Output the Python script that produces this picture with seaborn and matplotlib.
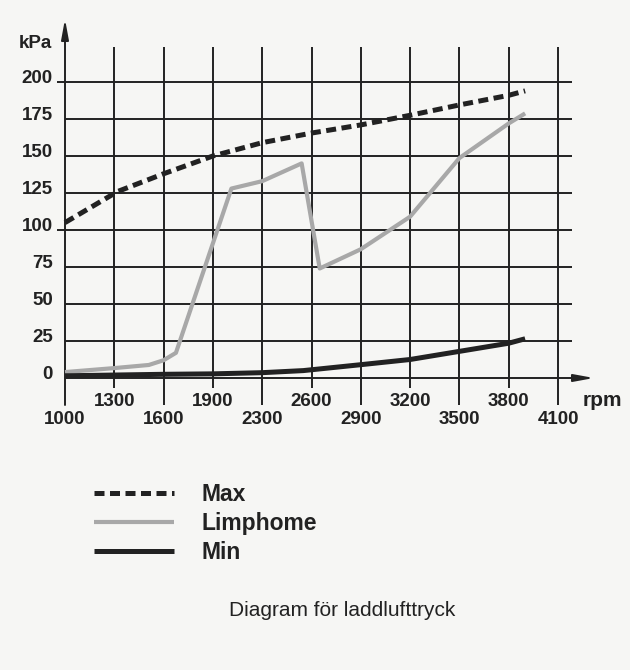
import numpy as np
import pandas as pd
import matplotlib
matplotlib.use("Agg")
import matplotlib.pyplot as plt
import seaborn as sns

# ---------------- data ----------------
tick_rpm = [1000, 1300, 1600, 1900, 2300, 2600, 2900, 3200, 3500, 3800, 4100]
kpa_ticks = [0, 25, 50, 75, 100, 125, 150, 175, 200]

max_rpm = [1000, 1320, 1600, 1900, 2300, 2600, 2900, 3200, 3500, 3800, 3900]
max_kpa = [105, 126, 138, 150, 159, 165.5, 171, 177.5, 184.5, 191, 194]

limp_rpm = [1000, 1300, 1510, 1600, 1675, 2050, 2300, 2540, 2650, 2900, 3200, 3500, 3800, 3900]
limp_kpa = [4, 6.7, 8.8, 12, 17, 128, 133, 145, 74, 87, 109, 148.6, 172, 178.8]

min_rpm = [1000, 1600, 1900, 2300, 2550, 2900, 3200, 3500, 3800, 3900]
min_kpa = [1.5, 2.5, 2.8, 3.6, 5, 9, 12.5, 18, 23.5, 26.5]

series_names = ["Max", "Limphome", "Min"]
title_text = "Diagram för laddlufttryck"

# ---------------- layout helpers ----------------
W, H = 630, 670
PX0, PXS = 65, 49.3      # pixel of first tick, pixels per tick step
PY0, PYS = 378, 1.48     # pixel of 0 kPa, pixels per kPa


def px2x(px):
    return (px - PX0) / PXS


def py2y(py):
    return (PY0 - py) / PYS


tick_idx = np.arange(len(tick_rpm))


def rpm_pos(r):
    return np.interp(r, tick_rpm, tick_idx)


sns.set_style("white")
plt.rcParams["font.family"] = ["Liberation Sans", "DejaVu Sans"]

bg = "#f6f6f4"
ink = "#222222"

fig = plt.figure(figsize=(W / 100, H / 100), dpi=100, facecolor=bg)
ax = fig.add_axes([0, 0, 1, 1], facecolor=bg)
ax.set_xlim(px2x(0), px2x(W))
ax.set_ylim(py2y(H), py2y(0))
ax.axis("off")

# grid lines
grid_lw = 1.4
for i in tick_idx[1:]:
    bottom = py2y(388) if i % 2 == 1 else py2y(405)
    ax.vlines(i, bottom, py2y(47), color=ink, lw=grid_lw, zorder=1)
for k in kpa_ticks[1:]:
    left = px2x(57) if k in (100, 200) else 0
    ax.hlines(k, left, px2x(572), color=ink, lw=grid_lw, zorder=1)

# axes with arrows
arrow_style = "-|>,head_length=0.6,head_width=0.11"
ax.annotate("", xy=(px2x(594), 0), xytext=(0, 0),
            arrowprops=dict(arrowstyle=arrow_style, color=ink, lw=grid_lw,
                            mutation_scale=20, shrinkA=0, shrinkB=0), zorder=2)
ax.annotate("", xy=(0, py2y(19)), xytext=(0, py2y(405)),
            arrowprops=dict(arrowstyle=arrow_style, color=ink, lw=grid_lw,
                            mutation_scale=20, shrinkA=0, shrinkB=0), zorder=2)

# data lines
df_max = pd.DataFrame({"x": rpm_pos(max_rpm), "kPa": max_kpa})
df_limp = pd.DataFrame({"x": rpm_pos(limp_rpm), "kPa": limp_kpa})
df_min = pd.DataFrame({"x": rpm_pos(min_rpm), "kPa": min_kpa})

sns.lineplot(data=df_limp, x="x", y="kPa", ax=ax, color="#a8a8a8", lw=3.0,
             sort=False, label=series_names[1], zorder=4)
sns.lineplot(data=df_min, x="x", y="kPa", ax=ax, color=ink, lw=3.6,
             sort=False, label=series_names[2], zorder=5)
sns.lineplot(data=df_max, x="x", y="kPa", ax=ax, color=ink, lw=3.6,
             sort=False, label=series_names[0], zorder=5)
line_limp, line_min, line_max = ax.get_lines()[-3:]
line_max.set_dashes((2.0, 1.1))
line_max.set_dash_capstyle("butt")
line_limp.set_solid_capstyle("butt")
line_min.set_solid_capstyle("butt")

# tick labels
tfont = dict(fontsize=13.5, fontweight="bold", color=ink)
for k in kpa_ticks:
    ax.text(px2x(53), k + 2.7, str(k), ha="right", va="center", **tfont)
for i, r in zip(tick_idx, tick_rpm):
    y = py2y(401) if i % 2 == 1 else py2y(420)
    ax.text(i, y, str(r), ha="center", va="center", **tfont)
ax.text(px2x(35), py2y(44), "kPa", ha="center", va="center", **tfont)
ax.text(px2x(602), py2y(401), "rpm", ha="center", va="center",
        fontsize=15, fontweight="bold", color=ink)

# legend
leg = ax.legend(handles=[line_max, line_limp, line_min], labels=series_names,
                loc="upper left", bbox_to_anchor=(94 / W, 1 - 483 / H),
                frameon=False, borderaxespad=0, borderpad=0,
                handlelength=3.5, handletextpad=1.2, labelspacing=0.27,
                prop=dict(family=["Liberation Sans", "DejaVu Sans"], weight="bold", size=16.5))
for t in leg.get_texts():
    t.set_color(ink)

fig.text(342 / W, 1 - 611 / H, title_text, ha="center", va="center",
         fontsize=15, color=ink)

fig.savefig("out.png", dpi=100, facecolor=bg)
